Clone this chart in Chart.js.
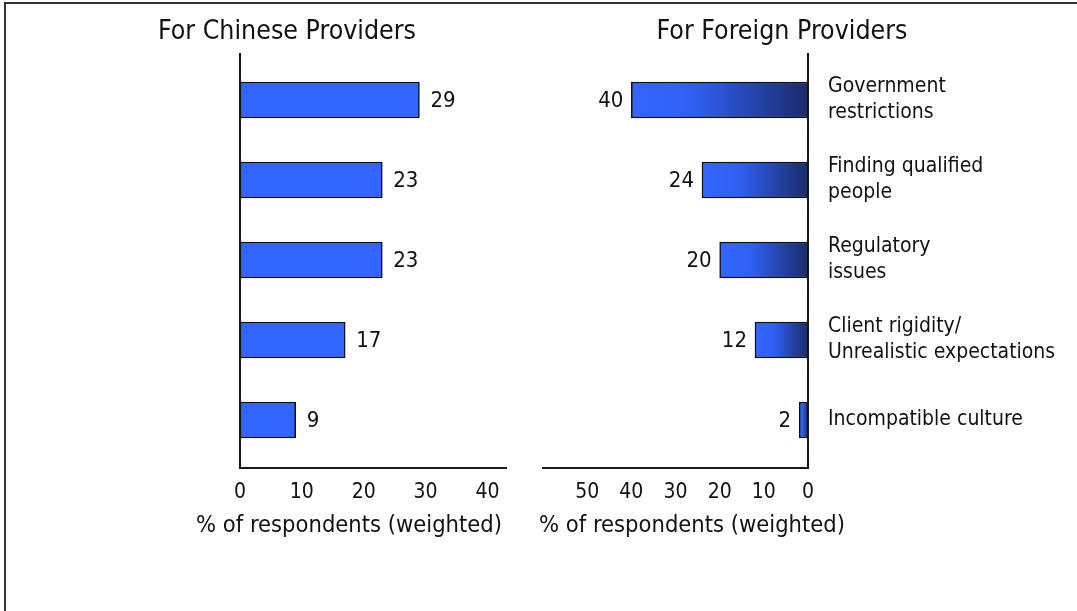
<!DOCTYPE html>
<html>
<head>
<meta charset="utf-8">
<script src="https://cdn.jsdelivr.net/npm/chart.js@4.4.1/dist/chart.umd.min.js"></script>
<style>
  html, body { margin: 0; padding: 0; background: #fff; }
  body { width: 1077px; height: 611px; position: relative; overflow: hidden; }
  #frame { position: absolute; left: 4px; top: 2px; width: 1200px; height: 800px;
           border-top: 2px solid #333; border-left: 2px solid #333; }
  #chinese { position: absolute; left: 0; top: 0; }
  #foreign { position: absolute; left: 540px; top: 0; }
</style>
</head>
<body>
<div id="frame"></div>
<canvas id="chinese" width="540" height="611"></canvas>
<canvas id="foreign" width="537" height="611"></canvas>
<script>
// Obstacles named by respondents, top to bottom
const categories = [
  ['Government', 'restrictions'],
  ['Finding qualified', 'people'],
  ['Regulatory', 'issues'],
  ['Client rigidity/', 'Unrealistic expectations'],
  ['Incompatible culture']
];
// % of respondents (weighted)
const chineseShares = [29, 23, 23, 17, 9];
const foreignShares = [40, 24, 20, 12, 2];
// value-axis tick labels
const chineseTicks = [0, 10, 20, 30, 40];
const foreignTicks = [0, 10, 20, 30, 40, 50];
const headings = ['For Chinese Providers', 'For Foreign Providers'];
const axisCaption = '% of respondents (weighted)';

const FAMILY = "'DejaVu Sans Condensed', 'DejaVu Sans', sans-serif";
const INK = '#111';
const LABEL_FONT = { family: FAMILY, size: 21 };

// headings, axis captions and value labels next to each bar
const panelText = {
  id: 'panelText',
  afterDraw(chart, args, o) {
    const { ctx } = chart;
    ctx.save();
    ctx.fillStyle = INK;
    ctx.textBaseline = 'middle';
    ctx.textAlign = 'center';
    ctx.font = `26.5px ${FAMILY}`;
    ctx.fillText(o.heading, o.headingX, o.headingY);
    ctx.font = `23.5px ${FAMILY}`;
    ctx.fillText(axisCaption, o.captionX, o.captionY);
    ctx.font = `22px ${FAMILY}`;
    const meta = chart.getDatasetMeta(0);
    const values = chart.data.datasets[0].data;
    meta.data.forEach((bar, i) => {
      const v = values[i].x;
      if (o.side === 'right') {
        ctx.textAlign = 'left';
        ctx.fillText(String(v), bar.x + 11, bar.y + 1);
      } else {
        ctx.textAlign = 'right';
        ctx.fillText(String(v), bar.x - 8, bar.y + 1);
      }
    });
    ctx.restore();
  }
};

function indexAxis(position, showLabels, width) {
  return {
    type: 'linear',
    position,
    reverse: true,
    offset: false,
    min: -0.575,
    max: 4.6,
    grid: { display: false, drawTicks: false, offset: false },
    border: { display: true, color: '#1a1a1a', width: 2 },
    afterBuildTicks: s => { s.ticks = categories.map((_, i) => ({ value: i })); },
    afterFit: s => { s.width = width; },
    ticks: {
      display: showLabels,
      padding: 20,
      crossAlign: 'near',
      color: INK,
      font: { family: FAMILY, size: 21, lineHeight: 1.24 },
      callback: v => categories[v]
    }
  };
}

function valueAxis(max, tickValues, reverse) {
  return {
    type: 'linear',
    min: 0,
    max,
    reverse,
    grid: { display: false, drawTicks: false },
    border: { display: true, color: '#1a1a1a', width: 2 },
    afterBuildTicks: s => { s.ticks = tickValues.map(v => ({ value: v })); },
    afterFit: s => { s.height = 60; },
    ticks: { padding: 12, color: INK, font: LABEL_FONT, maxRotation: 0, autoSkip: false }
  };
}

function points(values) {
  return values.map((v, i) => ({ x: v, y: i }));
}

// left panel: plain blue bars growing to the right
new Chart(document.getElementById('chinese'), {
  type: 'bar',
  data: {
    datasets: [{
      data: points(chineseShares),
      backgroundColor: '#3366FF',
      borderColor: '#111',
      borderWidth: 1.5,
      borderSkipped: false,
      barThickness: 36
    }]
  },
  options: {
    indexAxis: 'y',
    responsive: false,
    animation: false,
    events: [],
    layout: { padding: { left: 240, right: 34, top: 54, bottom: 83 } },
    scales: {
      x: valueAxis(43, chineseTicks, false),
      y: indexAxis('left', false, 0)
    },
    plugins: {
      legend: { display: false },
      tooltip: { enabled: false },
      panelText: { side: 'right', heading: headings[0], headingX: 287, headingY: 32, captionX: 349, captionY: 526 }
    }
  },
  plugins: [panelText]
});

// right panel: bars grow leftwards, shaded from bright blue to navy at the axis
new Chart(document.getElementById('foreign'), {
  type: 'bar',
  data: {
    datasets: [{
      data: points(foreignShares),
      backgroundColor(c) {
        const chart = c.chart;
        if (!chart.chartArea || c.type !== 'data' || !c.parsed) return '#3366FF';
        const xs = chart.scales.x;
        const tip = xs.getPixelForValue(c.parsed.x);
        const base = xs.getPixelForValue(0);
        const g = chart.ctx.createLinearGradient(tip, 0, base, 0);
        g.addColorStop(0, '#3366FF');
        g.addColorStop(0.35, '#3060F2');
        g.addColorStop(1, '#1B2C6B');
        return g;
      },
      borderColor: '#111',
      borderWidth: 1.5,
      borderSkipped: false,
      barThickness: 36
    }]
  },
  options: {
    indexAxis: 'y',
    responsive: false,
    animation: false,
    events: [],
    layout: { padding: { left: 3, right: 0, top: 54, bottom: 83 } },
    scales: {
      x: valueAxis(60, foreignTicks, true),
      y: indexAxis('right', true, 269)
    },
    plugins: {
      legend: { display: false },
      tooltip: { enabled: false },
      panelText: { side: 'left', heading: headings[1], headingX: 242, headingY: 32, captionX: 152, captionY: 526 }
    }
  },
  plugins: [panelText]
});
</script>
</body>
</html>
